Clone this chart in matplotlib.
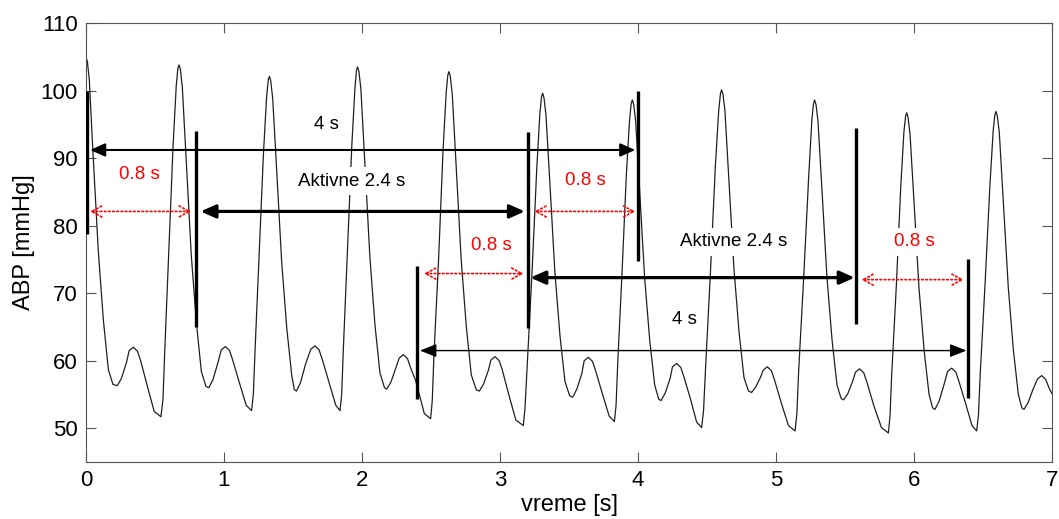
import matplotlib
matplotlib.use("Agg")
import matplotlib.pyplot as plt
from matplotlib.patches import ArrowStyle

plt.rcParams['font.family'] = ['Liberation Sans', 'DejaVu Sans']

# ---- ABP waveform (time [s], pressure [mmHg]) ----
time_s = [
    0.000, 0.010, 0.024, 0.048, 0.089, 0.126, 0.162, 0.195, 0.227,
    0.257, 0.293, 0.313, 0.343, 0.373, 0.396, 0.445, 0.494, 0.543,
    0.558, 0.570, 0.599, 0.631, 0.654, 0.666, 0.674,
    0.684, 0.698, 0.722, 0.763, 0.800, 0.836, 0.869, 0.890,
    0.920, 0.956, 0.980, 1.010, 1.040, 1.063, 1.112, 1.161, 1.200,
    1.213, 1.225, 1.254, 1.286, 1.309, 1.321, 1.329,
    1.339, 1.353, 1.377, 1.418, 1.455, 1.491, 1.510, 1.525,
    1.555, 1.591, 1.629, 1.659, 1.689, 1.712, 1.761, 1.810, 1.841,
    1.853, 1.865, 1.894, 1.926, 1.949, 1.960, 1.968,
    1.978, 1.992, 2.016, 2.057, 2.094, 2.130, 2.163, 2.179,
    2.209, 2.245, 2.270, 2.300, 2.330, 2.353, 2.390, 2.451, 2.497,
    2.509, 2.521, 2.555, 2.587, 2.610, 2.622, 2.630,
    2.640, 2.654, 2.678, 2.719, 2.756, 2.792, 2.828, 2.850,
    2.880, 2.916, 2.934, 2.964, 2.994, 3.017, 3.066, 3.115, 3.169,
    3.181, 3.197, 3.232, 3.266, 3.289, 3.301, 3.309,
    3.319, 3.333, 3.357, 3.398, 3.435, 3.471, 3.505, 3.527,
    3.557, 3.593, 3.610, 3.640, 3.670, 3.693, 3.742, 3.791, 3.829,
    3.841, 3.853, 3.884, 3.916, 3.939, 3.951, 3.959,
    3.969, 3.983, 4.007, 4.048, 4.085, 4.121, 4.150, 4.167,
    4.197, 4.233, 4.250, 4.280, 4.310, 4.333, 4.382, 4.425, 4.461,
    4.475, 4.490, 4.525, 4.560, 4.585, 4.598, 4.606,
    4.616, 4.630, 4.654, 4.695, 4.732, 4.768, 4.801, 4.823,
    4.853, 4.889, 4.907, 4.937, 4.967, 4.990, 5.039, 5.090, 5.138,
    5.151, 5.164, 5.200, 5.237, 5.260, 5.272, 5.280,
    5.290, 5.304, 5.328, 5.369, 5.406, 5.442, 5.472, 5.490,
    5.520, 5.556, 5.576, 5.606, 5.636, 5.659, 5.708, 5.764, 5.814,
    5.826, 5.838, 5.872, 5.904, 5.927, 5.939, 5.947,
    5.957, 5.971, 5.995, 6.036, 6.073, 6.109, 6.135, 6.152,
    6.182, 6.218, 6.243, 6.273, 6.303, 6.326, 6.375, 6.420, 6.454,
    6.467, 6.480, 6.515, 6.550, 6.574, 6.586, 6.594,
    6.604, 6.618, 6.642, 6.683, 6.720, 6.756, 6.782, 6.797,
    6.827, 6.863, 6.895, 6.925, 6.955, 6.978, 7.000,
]
abp_mmHg = [
    105.0, 104.3, 101.6, 91.8, 76.3, 66.0, 58.7, 56.5, 56.3,
    57.4, 59.7, 61.5, 62.0, 61.4, 60.0, 56.2, 52.5, 51.7,
    54.3, 61.1, 75.7, 91.8, 100.7, 103.3, 103.8,
    103.1, 100.5, 91.4, 75.6, 65.6, 58.4, 56.2, 56.0,
    57.2, 59.7, 61.6, 62.1, 61.5, 60.1, 56.7, 53.4, 52.6,
    55.1, 61.5, 75.4, 90.7, 99.1, 101.6, 102.1,
    101.4, 98.8, 90.0, 74.6, 64.8, 57.8, 55.7, 55.5,
    56.8, 59.5, 61.7, 62.2, 61.6, 60.2, 56.8, 53.4, 52.6,
    55.1, 61.8, 76.0, 91.8, 100.4, 103.0, 103.5,
    102.8, 100.2, 91.1, 75.4, 65.3, 58.2, 56.0, 55.8,
    56.8, 58.9, 60.4, 60.9, 60.3, 58.9, 57.0, 52.2, 51.4,
    54.0, 60.7, 75.0, 91.0, 99.7, 102.3, 102.8,
    102.1, 99.5, 90.5, 74.9, 65.0, 57.9, 55.7, 55.5,
    56.5, 58.6, 60.1, 60.6, 60.0, 58.6, 54.8, 51.2, 50.4,
    52.9, 59.3, 73.0, 88.3, 96.6, 99.1, 99.6,
    98.9, 96.4, 87.9, 73.0, 63.6, 56.9, 54.8, 54.6,
    55.8, 58.1, 60.0, 60.5, 59.9, 58.5, 55.1, 51.8, 51.0,
    53.4, 59.6, 72.9, 87.7, 95.7, 98.1, 98.6,
    97.9, 95.5, 87.0, 72.3, 63.0, 56.4, 54.3, 54.1,
    55.2, 57.4, 59.1, 59.6, 59.0, 57.6, 54.2, 50.9, 50.1,
    52.6, 59.1, 73.1, 88.6, 97.1, 99.6, 100.1,
    99.4, 97.0, 88.4, 73.7, 64.3, 57.5, 55.5, 55.3,
    56.1, 57.6, 58.6, 59.1, 58.5, 57.1, 53.7, 50.4, 49.6,
    52.1, 58.4, 72.1, 87.3, 95.7, 98.1, 98.6,
    97.9, 95.5, 87.1, 72.4, 63.1, 56.4, 54.4, 54.2,
    55.1, 57.0, 58.3, 58.8, 58.2, 56.8, 53.4, 50.1, 49.3,
    51.7, 57.8, 71.1, 85.8, 93.9, 96.2, 96.7,
    96.0, 93.6, 85.3, 70.8, 61.6, 55.0, 53.0, 52.8,
    54.0, 56.5, 58.4, 58.9, 58.3, 56.9, 53.6, 50.4, 49.6,
    52.0, 58.1, 71.4, 86.0, 94.1, 96.4, 96.9,
    96.2, 93.8, 85.4, 70.9, 61.6, 55.0, 53.0, 52.8,
    53.8, 55.8, 57.3, 57.8, 57.2, 56.0, 55.1,
]

# ---- window markers (vertical bars) ----
bar_t = [0.01, 0.80, 2.40, 3.20, 4.00, 5.58, 6.39]
bar_lo = [78.7, 65.0, 54.3, 64.9, 74.7, 65.4, 54.5]
bar_hi = [100.0, 94.0, 74.0, 93.9, 100.0, 94.4, 75.1]

# ---- black double arrows: start, end, level, linewidth ----
blk_start = [0.03, 0.83, 3.22, 2.42]
blk_end = [3.98, 3.18, 5.57, 6.38]
blk_level = [91.2, 82.1, 72.3, 61.5]
blk_lw = [1.5, 2.3, 2.3, 1.0]

# ---- red dotted arrows (0.8 s gaps) ----
red_start = [0.03, 3.25, 2.45, 5.62]
red_end = [0.76, 3.98, 3.17, 6.36]
red_level = [82.1, 82.1, 72.9, 72.0]

# ---- labels ----
lbl_text = ["4 s", "Aktivne 2.4 s", "0.8 s", "0.8 s", "0.8 s",
            "Aktivne 2.4 s", "0.8 s", "4 s"]
lbl_t = [1.744, 1.924, 0.384, 3.620, 2.938, 4.696, 6.000, 4.333]
lbl_v = [95.0, 86.6, 87.6, 86.7, 77.1, 77.6, 77.6, 66.1]
lbl_color = ["black", "black", "red", "red", "red", "black", "red", "black"]

x_ticks = [0, 1, 2, 3, 4, 5, 6, 7]
y_ticks = [50, 60, 70, 80, 90, 100, 110]

fig = plt.figure(figsize=(10.59, 5.19), dpi=100)
ax = fig.add_axes([0.0812, 0.1098, 0.9122, 0.8459])

ax.plot(time_s, abp_mmHg, color="#202020", lw=0.9, zorder=2)

for t, lo, hi in zip(bar_t, bar_lo, bar_hi):
    ax.plot([t, t], [lo, hi], color="black", lw=2.4, solid_capstyle="butt", zorder=6)

for s, e, lv, lw in zip(blk_start, blk_end, blk_level, blk_lw):
    hl = 0.45 if lw > 1.2 else 0.5
    ax.annotate("", xy=(e, lv), xytext=(s, lv),
                arrowprops=dict(arrowstyle=ArrowStyle("<|-|>", head_length=hl, head_width=0.2),
                                color="black", lw=lw, mutation_scale=20,
                                shrinkA=0, shrinkB=0), zorder=6)

for s, e, lv in zip(red_start, red_end, red_level):
    ax.annotate("", xy=(e, lv), xytext=(s, lv),
                arrowprops=dict(arrowstyle=ArrowStyle("<->", head_length=0.4, head_width=0.22),
                                color="red", lw=1.2, linestyle=(0, (1, 1.5)), mutation_scale=18,
                                shrinkA=0, shrinkB=0), zorder=6)

for txt, t, v, c in zip(lbl_text, lbl_t, lbl_v, lbl_color):
    ax.text(t, v, txt, color=c, fontsize=13.5, ha="center", va="center", zorder=5,
            bbox=dict(facecolor="white", edgecolor="none", pad=4))

ax.set_xlim(0, 7)
ax.set_ylim(45, 110)
ax.set_xticks(x_ticks)
ax.set_yticks(y_ticks)
ax.tick_params(direction="in", length=7, width=0.8, colors="#555555",
               labelcolor="black", labelsize=16, top=True, right=True, pad=6)
for sp in ax.spines.values():
    sp.set_color("#555555")
    sp.set_linewidth(0.8)
ax.set_xlabel("vreme [s]", fontsize=17, labelpad=2)
ax.set_ylabel("ABP [mmHg]", fontsize=17, labelpad=4)

fig.savefig("out.png", dpi=100)
